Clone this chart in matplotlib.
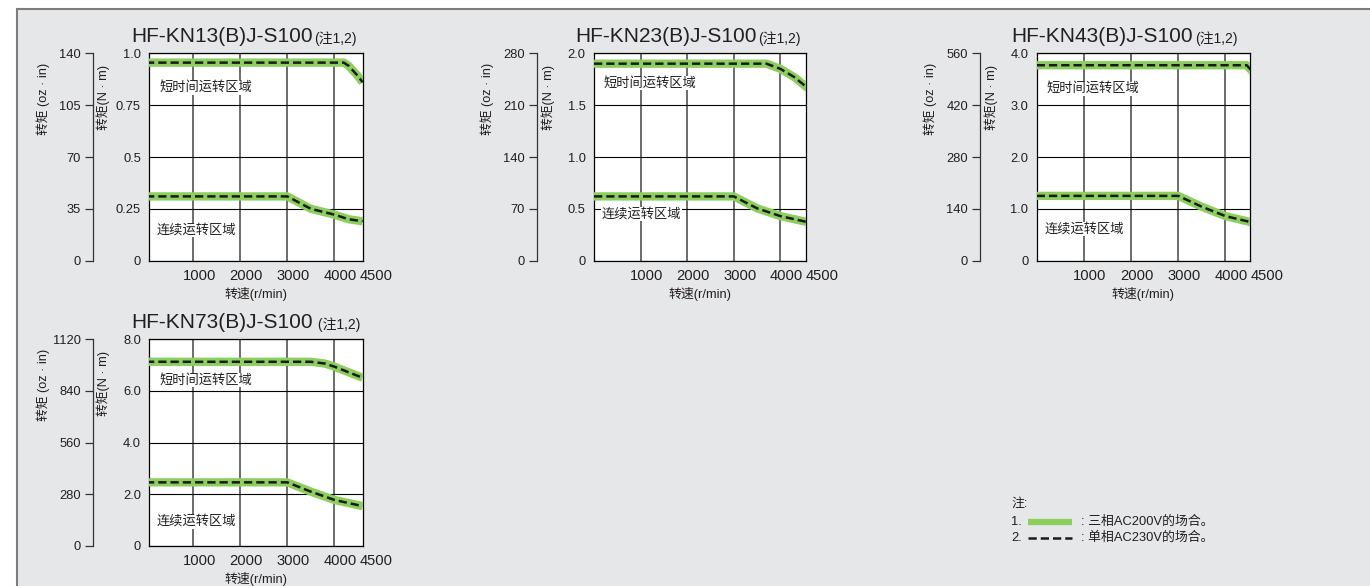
import matplotlib
matplotlib.use('Agg')
import matplotlib.pyplot as plt
import matplotlib.transforms as mtransforms
from matplotlib.lines import Line2D
from matplotlib.patches import Rectangle

plt.rcParams['font.family'] = ['Liberation Sans', 'Noto Sans CJK SC']
plt.rcParams['axes.unicode_minus'] = False

# 数据
models = ['HF-KN13(B)J-S100', 'HF-KN23(B)J-S100', 'HF-KN43(B)J-S100', 'HF-KN73(B)J-S100']
notes = ['(注1,2)', '(注1,2)', '(注1,2)', ' (注1,2)']
x_ticks = [1000, 2000, 3000, 4000]
x_labels = ['1000', '2000', '3000', '4000', '4500']
x_label_at = [1000, 2000, 3000, 4000, 4500]
nm_ticks = [[0, 0.25, 0.5, 0.75, 1.0], [0, 0.5, 1.0, 1.5, 2.0],
            [0, 1.0, 2.0, 3.0, 4.0], [0, 2.0, 4.0, 6.0, 8.0]]
nm_labels = [['0', '0.25', '0.5', '0.75', '1.0'], ['0', '0.5', '1.0', '1.5', '2.0'],
             ['0', '1.0', '2.0', '3.0', '4.0'], ['0', '2.0', '4.0', '6.0', '8.0']]
oz_ticks = [[0, 35, 70, 105, 140], [0, 70, 140, 210, 280],
            [0, 140, 280, 420, 560], [0, 280, 560, 840, 1120]]

# 短时间运转区域 (最大转矩)
kn13_peak_v = [0, 4200, 4300, 4500, 4600]
kn13_peak_t = [0.955, 0.955, 0.94, 0.89, 0.86]
kn23_peak_v = [0, 3700, 4000, 4300, 4600]
kn23_peak_t = [1.90, 1.90, 1.85, 1.77, 1.66]
kn43_peak_v = [0, 4450, 4600]
kn43_peak_t = [3.77, 3.77, 3.62]
kn73_peak_v = [0, 3500, 3800, 4000, 4600]
kn73_peak_t = [7.12, 7.12, 7.05, 6.93, 6.50]

# 连续运转区域 (额定转矩)
kn13_cont_v = [0, 3000, 3500, 4000, 4300, 4600]
kn13_cont_t = [0.31, 0.31, 0.25, 0.222, 0.20, 0.19]
kn23_cont_v = [0, 3000, 3500, 4000, 4600]
kn23_cont_t = [0.62, 0.62, 0.505, 0.43, 0.37]
kn43_cont_v = [0, 3000, 3500, 4000, 4600]
kn43_cont_t = [1.25, 1.25, 1.04, 0.86, 0.73]
kn73_cont_v = [0, 3000, 3500, 4000, 4600]
kn73_cont_t = [2.46, 2.46, 2.10, 1.78, 1.54]

peak_v = [kn13_peak_v, kn23_peak_v, kn43_peak_v, kn73_peak_v]
peak_t = [kn13_peak_t, kn23_peak_t, kn43_peak_t, kn73_peak_t]
cont_v = [kn13_cont_v, kn23_cont_v, kn43_cont_v, kn73_cont_v]
cont_t = [kn13_cont_t, kn23_cont_t, kn43_cont_t, kn73_cont_t]

# 区域文字的高度 (N·m)
peak_label_y = [0.834, 1.71, 3.32, 6.41]
cont_label_y = [0.148, 0.447, 0.61, 0.94]

# 布局 (像素)
W, H = 1370, 586
BG = '#e6e7e8'
GREEN = '#8dcf5e'
TXT = '#231f20'
panels = [  # left, top, right, bottom, 副轴x, 标题偏移, x范围
    (149.3, 53.3, 362.7, 260.7, 92.7, -18, (70, 4600)),
    (594.0, 53.3, 806.0, 260.7, 536.7, -19, (0, 4550)),
    (1036.7, 53.3, 1250.0, 260.7, 980.0, -25, (0, 4520)),
    (149.3, 339.0, 362.7, 546.0, 92.7, -18, (70, 4600)),
]


def px(x, y, w, h):
    return [x / W, 1 - (y + h) / H, w / W, h / H]


fig = plt.figure(figsize=(W / 100, H / 100), dpi=100, facecolor='white')

# 灰色背景与边框
fig.patches.append(Rectangle((16 / W, 0), 1 - 16 / W, 1 - 8 / H, transform=fig.transFigure,
                             facecolor=BG, edgecolor='none', zorder=-10))
fig.add_artist(Line2D([16.5 / W, 1], [1 - 8.5 / H, 1 - 8.5 / H], color='#7d7d7d', lw=1.5, zorder=-5))
fig.add_artist(Line2D([16.5 / W, 16.5 / W], [0, 1 - 8.5 / H], color='#7d7d7d', lw=1.5, zorder=-5))

for i, (l, t, r, b, sx, tdx, xlim) in enumerate(panels):
    ax = fig.add_axes(px(l, t, r - l, b - t))
    ax.set_facecolor('white')
    ax.set_xlim(*xlim)
    ax.set_ylim(0, nm_ticks[i][-1])
    for s in ax.spines.values():
        s.set_color('black')
        s.set_linewidth(0.9)
    ax.set_xticks(x_ticks)
    ax.set_xticklabels([])
    ax.set_yticks(nm_ticks[i])
    ax.set_yticklabels(nm_labels[i])
    ax.tick_params(axis='x', length=0)
    ax.tick_params(axis='y', length=0, pad=6, labelsize=9.3, labelcolor=TXT)
    ax.xaxis.grid(True, color='#6b6b6b', lw=1.4)
    ax.yaxis.grid(True, color='black', lw=0.8)
    ax.set_axisbelow(True)

    # 曲线
    for v, tq in [(peak_v[i], peak_t[i]), (cont_v[i], cont_t[i])]:
        ax.plot(v, tq, color=GREEN, lw=6, solid_capstyle='butt', solid_joinstyle='round', zorder=3)
        ax.plot(v, tq, color='#1a1a1a', lw=1.8, linestyle=(0, (3.3, 1.6)), zorder=4)

    ax.text(xlim[0] + 210, peak_label_y[i], '短时间运转区域', fontsize=9.5, color=TXT, ha='left',
            va='center', bbox=dict(facecolor='white', edgecolor='none', pad=0.5), zorder=5)
    ax.text(xlim[0] + 160, cont_label_y[i], '连续运转区域', fontsize=9.5, color=TXT, ha='left',
            va='center', bbox=dict(facecolor='white', edgecolor='none', pad=0.5), zorder=5)

    # x 轴刻度文字
    for xv, lab in zip(x_label_at, x_labels):
        dx = 6 if xv < 4500 else 18
        tr = mtransforms.offset_copy(ax.get_xaxis_transform(), fig=fig, x=dx, y=-15, units='dots')
        ax.text(xv, 0, lab, transform=tr, ha='center', va='center', fontsize=10.6, color=TXT,
                clip_on=False)
    fig.text((l + r) / 2 / W, 1 - (b + 33) / H, '转速(r/min)', ha='center', va='center',
             fontsize=9.3, color=TXT)

    # 副轴 (oz·in)
    sax = fig.add_axes(px(sx, t, 1, b - t))
    sax.patch.set_visible(False)
    for k in ['top', 'right', 'bottom']:
        sax.spines[k].set_visible(False)
    sax.spines['left'].set_color('#333333')
    sax.spines['left'].set_linewidth(0.9)
    sax.set_xticks([])
    sax.set_ylim(0, oz_ticks[i][-1])
    sax.set_yticks(oz_ticks[i])
    sax.tick_params(axis='y', direction='out', length=5.5, width=0.9, color='#333333',
                    pad=3, labelsize=9.3, labelcolor=TXT)

    fig.text((sx - 50) / W, 1 - (t + 46) / H, '转矩 (oz · in)', rotation=90, ha='center',
             va='center', fontsize=9.2, color=TXT)
    fig.text((l - 46) / W, 1 - (t + 44) / H, '转矩(N · m)', rotation=90, ha='center',
             va='center', fontsize=9.2, color=TXT)

    # 标题
    ttl = fig.text((l + tdx) / W, 1 - (t - 11.5) / H, models[i], fontsize=15, color=TXT,
                   ha='left', va='baseline')
    ax.annotate(notes[i], xy=(1, 0), xycoords=ttl, xytext=(1, 0), textcoords='offset points',
                fontsize=10, color=TXT, ha='left', va='bottom', annotation_clip=False)

# 图例说明
lax = fig.add_axes(px(1000, 490, 270, 60))
lax.set_xlim(1000, 1270)
lax.set_ylim(550, 490)
lax.axis('off')
lax.text(1011, 504, '注:', fontsize=9.3, color=TXT, va='center', ha='left')
lax.text(1011, 522, '1.', fontsize=9.3, color=TXT, va='center', ha='left')
lax.text(1011, 538, '2.', fontsize=9.3, color=TXT, va='center', ha='left')
lax.plot([1028, 1072], [522, 522], color=GREEN, lw=4.5, solid_capstyle='butt')
lax.plot([1028, 1072], [538, 538], color='#1a1a1a', lw=1.8, linestyle=(0, (3.3, 1.6)))
lax.text(1081, 522, ': 三相AC200V的场合。', fontsize=9.3, color=TXT, va='center', ha='left')
lax.text(1081, 538, ': 单相AC230V的场合。', fontsize=9.3, color=TXT, va='center', ha='left')

fig.savefig('out.png', dpi=100, facecolor='white')
